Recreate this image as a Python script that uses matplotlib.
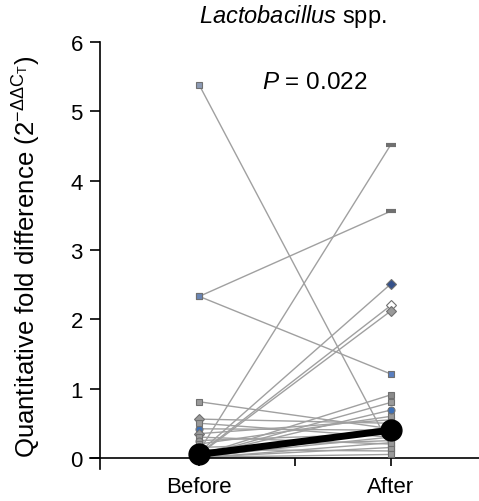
import numpy as np
import matplotlib.pyplot as plt

plt.rcParams['font.family'] = ['Liberation Sans', 'DejaVu Sans']
plt.rcParams['mathtext.fontset'] = 'custom'
plt.rcParams['mathtext.rm'] = 'Liberation Sans'
plt.rcParams['mathtext.it'] = 'Liberation Sans:italic'

# per-patient values (2^-ddCt), before and after
before = [5.38, 2.33, 2.33, 0.81, 0.56, 0.42, 0.50, 0.35, 0.30, 0.25, 0.20, 0.15, 0.12,
          0.10, 0.08, 0.06, 0.05, 0.04, 0.03, 0.03, 0.02, 0.02, 0.01, 0.01, 0.00, 0.00]
after = [0.15, 3.56, 1.21, 0.42, 0.50, 0.40, 0.30, 0.55, 0.20, 0.35, 0.60, 0.25, 0.10,
         4.52, 2.51, 2.20, 2.12, 0.91, 0.80, 0.69, 0.45, 0.30, 0.15, 0.05, 0.38, 0.22]
# marker style per patient: (before marker, before colour, after marker, after colour)
styles = [('s', '#8d9bb5', 's', '#9a9a9a'), ('s', '#6a86b5', '_', '#8a8a8a'),
          ('s', '#6a86b5', 's', '#5a7fc0'), ('s', '#9a9a9a', 's', '#9a9a9a'),
          ('D', '#9a9a9a', 's', '#9a9a9a'), ('o', '#3d6fb6', 'o', '#9a9a9a'),
          ('s', '#9a9a9a', 's', '#9a9a9a'), ('D', '#9a9a9a', 's', '#9a9a9a'),
          ('s', '#9a9a9a', 's', '#9a9a9a'), ('o', '#9a9a9a', 's', '#9a9a9a'),
          ('s', '#9a9a9a', 's', '#9a9a9a'), ('s', '#9a9a9a', 's', '#9a9a9a'),
          ('s', '#9a9a9a', 's', 'white'), ('s', '#9a9a9a', '_', '#8a8a8a'),
          ('s', '#9a9a9a', 'D', '#34508a'), ('s', '#9a9a9a', 'D', 'white'),
          ('s', '#9a9a9a', 'D', '#9a9a9a'), ('s', '#9a9a9a', 's', '#8a8a8a'),
          ('s', '#9a9a9a', 's', '#9a9a9a'), ('s', '#9a9a9a', 'o', '#3d6fb6'),
          ('s', '#9a9a9a', 's', '#9a9a9a'), ('s', '#9a9a9a', 's', '#9a9a9a'),
          ('s', '#9a9a9a', 's', '#9a9a9a'), ('s', '#9a9a9a', 's', '#9a9a9a'),
          ('s', '#9a9a9a', 's', '#9a9a9a'), ('s', '#9a9a9a', 's', '#9a9a9a')]
summary = [0.05, 0.40]  # median before / after
groups = ['Before', 'After']

fig = plt.figure(figsize=(4.79, 5.02), dpi=100)
ax = fig.add_axes([90 / 479, 32 / 502, 389 / 479, 427 / 502])

x = [0, 1]
for b, a, st in zip(before, after, styles):
    ax.plot(x, [b, a], color='#a0a0a0', lw=1.0, zorder=2)
    ax.plot(0, b, marker=st[0], ms=5 if st[0] != '_' else 7, mfc=st[1], mec='#707070',
            mew=0.8 if st[0] != '_' else 3, color='#808080', zorder=3)
    ax.plot(1, a, marker=st[2], ms=5 if st[2] != '_' else 7, mfc=st[3], mec='#707070',
            mew=0.8 if st[2] != '_' else 3, color='#808080', zorder=3)

ax.plot(x, summary, color='black', lw=5, marker='o', ms=15, zorder=5)

ax.set_xlim(-0.57, 1.46)
ax.set_ylim(-0.16, 6)
ax.spines['top'].set_visible(False)
ax.spines['right'].set_visible(False)
ax.spines['left'].set_position(('data', -0.52))
ax.spines['bottom'].set_position(('data', 0))
ax.spines['left'].set_linewidth(1.2)
ax.spines['bottom'].set_linewidth(1.2)
ax.set_yticks(range(0, 7))
ax.set_xticks([0, 0.5, 1])
ax.set_xticklabels([groups[0], '', groups[1]])
ax.tick_params(axis='y', labelsize=16, length=7, width=1.2, pad=5)
ax.tick_params(axis='x', labelsize=16, length=6, width=1.2, pad=7)

ax.set_ylabel(r'Quantitative fold difference (2$^{-\Delta\Delta \mathrm{C_T}}$)', fontsize=18.5)
ax.yaxis.set_label_coords(-0.12, 0.5)
fig.text(0.612, 0.995, r'$\it{Lactobacillus}$ spp.', ha='center', va='top', fontsize=17)
ax.text(0.33, 5.43, r'$P$ = 0.022', fontsize=17.5, ha='left', va='center')

fig.savefig('out.png', dpi=100)
